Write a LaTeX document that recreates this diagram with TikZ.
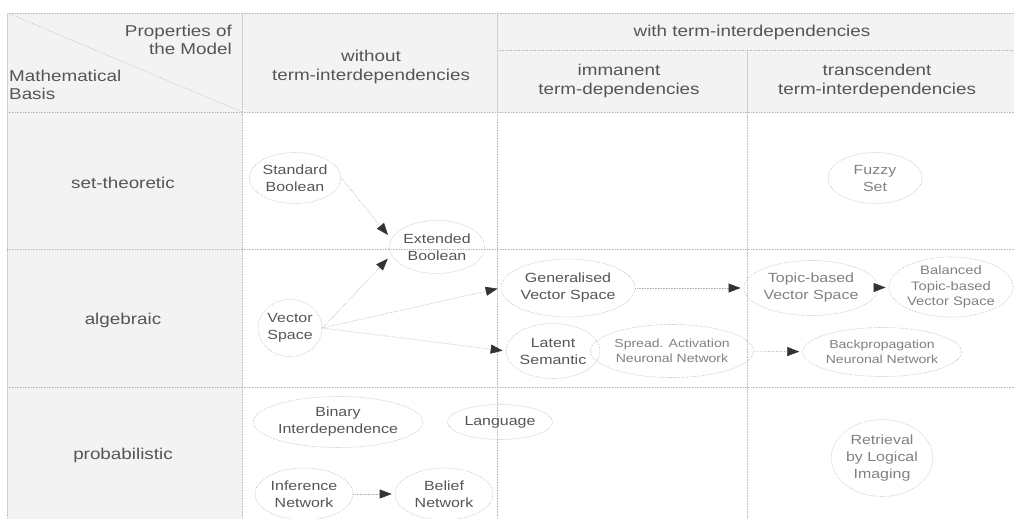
\documentclass[tikz,border=0pt]{standalone}
\usepackage{fontspec}
\setmainfont{Liberation Sans}[FakeStretch=1.2]
\usetikzlibrary{shapes.geometric,arrows.meta}
\definecolor{txt}{HTML}{555555}
\definecolor{txtl}{HTML}{808080}
\definecolor{gridc}{HTML}{BBBBBB}
\definecolor{elc}{HTML}{B8B8B8}
\definecolor{hdr}{HTML}{F3F3F3}
\tikzset{
  gridline/.style={gridc, densely dotted, line width=0.6pt},
  hd/.style={text=txt, align=center, font=\fontsize{15.7}{18.5}\selectfont, inner sep=0pt},
  el/.style={ellipse, draw=elc, densely dotted, line width=0.6pt, inner sep=0pt, align=center, text=txt, font=\fontsize{13.3}{17}\selectfont},
  sm/.style={font=\fontsize{11.7}{15.5}\selectfont},
  arr/.style={gray!60, densely dotted, line width=0.6pt, -{Triangle[length=12pt,width=9pt,color=black!80]}, shorten >=3pt}
}
\begin{document}
\begin{tikzpicture}[x=1pt,y=-1pt]
\useasboundingbox (0,0) rectangle (1014,519);
% backgrounds
\fill[hdr] (7,13) rectangle (1014,112);
\fill[hdr] (7,112) rectangle (242,519);
% grid
\draw[gridline] (7,13) -- (1014,13);
\draw[gridline] (497,50) -- (1014,50);
\draw[gridline] (7,112) -- (1014,112);
\draw[gridline] (7,249) -- (1014,249);
\draw[gridline] (7,387) -- (1014,387);
\draw[gridline] (7,13) -- (7,519);
\draw[gridline] (242,13) -- (242,519);
\draw[gridline] (497,13) -- (497,519);
\draw[gridline] (747,50) -- (747,519);
\draw[gridline] (10,14) -- (242,112);
% header texts
\node[hd, anchor=east, align=right] (props) at (232,40) {Properties of\\the Model};
\node[hd, anchor=west, align=left] (basis) at (9,85) {Mathematical\\Basis};
\node[hd] (without) at (371,67) {without\\term-interdependencies};
\node[hd] (with) at (752,32) {with term-interdependencies};
\node[hd] (imm) at (619,81) {immanent\\term-dependencies};
\node[hd] (trans) at (877,81) {transcendent\\term-interdependencies};
% row labels
\node[hd] (set) at (123,183) {set-theoretic};
\node[hd] (alg) at (123,320) {algebraic};
\node[hd] (prob) at (123,455) {probabilistic};
% model nodes
\node[el, minimum width=90pt, minimum height=51pt] (sb) at (295,178) {Standard\\Boolean};
\node[el, minimum width=93pt, minimum height=53pt] (eb) at (437,247) {Extended\\Boolean};
\node[el, minimum width=64pt, minimum height=57pt] (vs) at (290,328) {Vector\\Space};
\node[el, minimum width=113pt, minimum height=58pt] (gvs) at (568,288) {Generalised\\Vector Space};
\node[el, minimum width=83pt, minimum height=55pt] (ls) at (553,351) {Latent\\Semantic};
\node[el, sm, minimum width=139pt, minimum height=53pt, text=txtl] (sa) at (672,351) {Spread. Activation\\Neuronal Network};
\node[el, minimum width=117pt, minimum height=55pt, text=txtl] (tvs) at (811,288) {Topic-based\\Vector Space};
\node[el, sm, minimum width=107pt, minimum height=53pt, text=txtl, font=\fontsize{12.3}{15.5}\selectfont] (btvs) at (951,287) {Balanced\\Topic-based\\Vector Space};
\node[el, sm, minimum width=139pt, minimum height=49pt, text=txtl] (bp) at (882,352) {Backpropagation\\Neuronal Network};
\node[el, minimum width=94pt, minimum height=51pt, text=txtl] (fs) at (875,178) {Fuzzy\\Set};
\node[el, minimum width=147pt, minimum height=51pt] (bi) at (338,422) {Binary\\Interdependence};
\node[el, minimum width=105pt, minimum height=35pt] (lang) at (500,422) {Language};
\node[el, minimum width=98pt, minimum height=52pt] (inf) at (304,494) {Inference\\Network};
\node[el, minimum width=98pt, minimum height=52pt] (bn) at (444,494) {Belief\\Network};
\node[el, minimum width=101pt, minimum height=77pt, text=txtl] (rli) at (882,458) {Retrieval\\by Logical\\Imaging};
% connectors
\draw[arr, shorten >=5pt] (sb.east) -- (eb.170);
\draw[arr, shorten >=5pt] (vs.east) -- (eb.190);
\draw[arr] (vs.east) -- (gvs.west);
\draw[arr] (vs.east) -- (ls.west);
\draw[arr] (gvs) -- (tvs);
\draw[arr] (tvs) -- (btvs);
\draw[arr] (sa) -- (bp);
\draw[arr] (inf) -- (bn);
\end{tikzpicture}
\end{document}
